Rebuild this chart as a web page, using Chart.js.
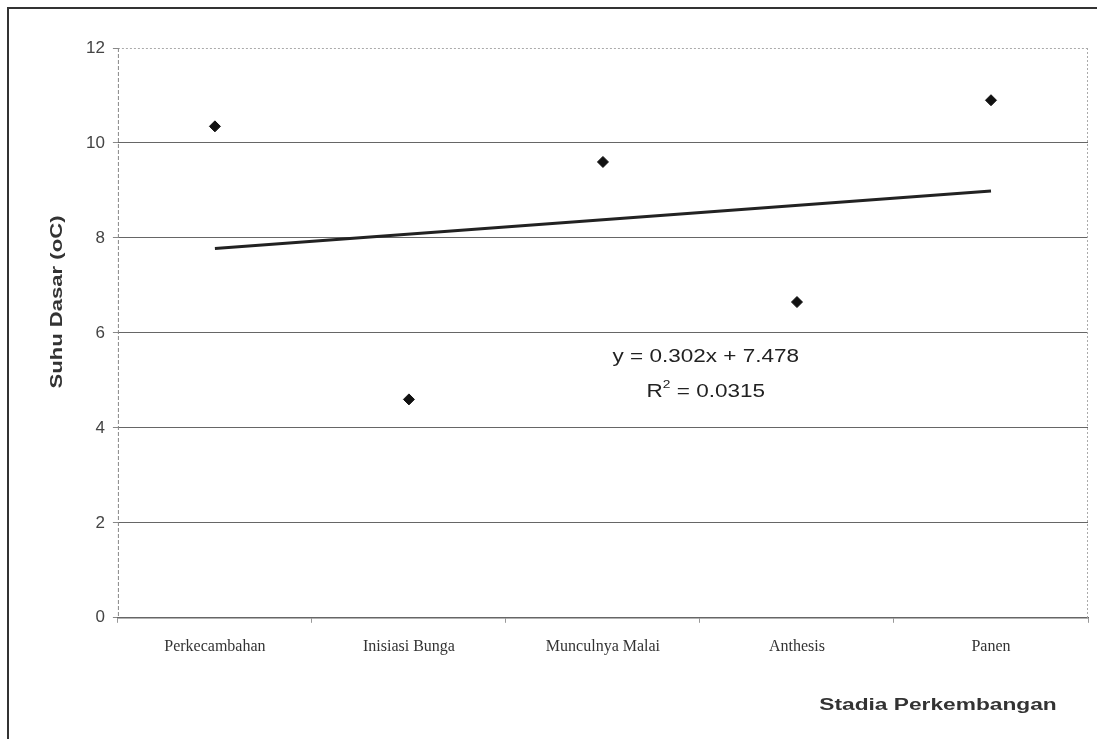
<!DOCTYPE html>
<html>
<head>
<meta charset="utf-8">
<script src="https://cdn.jsdelivr.net/npm/chart.js@4/dist/chart.umd.min.js"></script>
<style>
  body { margin: 0; background: #fff; }
</style>
</head>
<body>
<canvas id="myChart" width="1097" height="739"></canvas>
<script>
// data

const stages = ["Perkecambahan", "Inisiasi Bunga", "Munculnya Malai", "Anthesis", "Panen"];
const suhuDasar = [10.35, 4.6, 9.6, 6.65, 10.9];
const yTicks = [0, 2, 4, 6, 8, 10, 12];

// linear trend shown in the picture
const slope = 0.302;
const intercept = 7.478;
const rSquared = "0.0315";
const trendLine = stages.map((s, i) =>
  i === 0 || i === stages.length - 1 ? slope * (i + 1) + intercept : null
);

// extra drawing: frame, dotted plot edges, titles, equation
const extras = {
  id: "extras",
  afterDraw(chart) {
    const ctx = chart.ctx;
    const a = chart.chartArea;
    const xs = chart.scales.x;
    const ys = chart.scales.y;
    ctx.save();

    // outer frame (left + top)
    ctx.strokeStyle = "#333";
    ctx.lineWidth = 2;
    ctx.beginPath();
    ctx.moveTo(8, 739);
    ctx.lineTo(8, 8);
    ctx.lineTo(1097, 8);
    ctx.stroke();

    // dotted top and right edge of plot, dashed left axis
    ctx.strokeStyle = "#aaa";
    ctx.lineWidth = 1;
    ctx.setLineDash([2, 2]);
    ctx.beginPath();
    ctx.moveTo(a.left, a.top + 0.5);
    ctx.lineTo(a.right, a.top + 0.5);
    ctx.moveTo(a.right - 0.5, a.top);
    ctx.lineTo(a.right - 0.5, a.bottom);
    ctx.stroke();
    ctx.strokeStyle = "#888";
    ctx.setLineDash([4, 2]);
    ctx.beginPath();
    ctx.moveTo(a.left + 0.5, a.top);
    ctx.lineTo(a.left + 0.5, a.bottom);
    ctx.stroke();
    ctx.setLineDash([]);

    // equation
    ctx.fillStyle = "#222";
    ctx.textAlign = "center";
    ctx.textBaseline = "middle";
    const ex = xs.getPixelForValue(2.53);
    const ey1 = ys.getPixelForValue(5.5);
    const ey2 = ys.getPixelForValue(4.75);
    ctx.font = "18px 'Liberation Sans', Arial, sans-serif";
    ctx.save();
    ctx.translate(ex, ey1);
    ctx.scale(1.25, 1);
    ctx.fillText("y = 0.302x + 7.478", 0, 0);
    ctx.restore();
    ctx.save();
    ctx.translate(ex, ey2);
    ctx.scale(1.25, 1);
    const t1 = "R", t2 = " = " + rSquared;
    const w1 = ctx.measureText(t1).width;
    ctx.font = "11px 'Liberation Sans', Arial, sans-serif";
    const ws = ctx.measureText("2").width;
    ctx.font = "18px 'Liberation Sans', Arial, sans-serif";
    const w2 = ctx.measureText(t2).width;
    const start = -(w1 + ws + w2) / 2;
    ctx.textAlign = "left";
    ctx.fillText(t1, start, 0);
    ctx.font = "11px 'Liberation Sans', Arial, sans-serif";
    ctx.fillText("2", start + w1, -7);
    ctx.font = "18px 'Liberation Sans', Arial, sans-serif";
    ctx.fillText(t2, start + w1 + ws, 0);
    ctx.restore();

    // axis titles
    ctx.fillStyle = "#333";
    ctx.font = "bold 16px 'Liberation Sans', Arial, sans-serif";
    ctx.save();
    ctx.translate(58, 302);
    ctx.rotate(-Math.PI / 2);
    ctx.scale(1.38, 1);
    ctx.textAlign = "center";
    ctx.fillText("Suhu Dasar (oC)", 0, 0);
    ctx.restore();

    ctx.save();
    ctx.translate(938, 706);
    ctx.scale(1.42, 1);
    ctx.textAlign = "center";
    ctx.fillText("Stadia Perkembangan", 0, 0);
    ctx.restore();

    ctx.restore();
  },
};

const myChart = new Chart("myChart", {
  type: "line",
  data: {
    labels: stages,
    datasets: [
      {
        label: "Suhu Dasar",
        data: suhuDasar,
        showLine: false,
        pointStyle: "rectRot",
        pointRadius: 5.5,
        backgroundColor: "#111",
        borderColor: "#111",
      },
      {
        label: "Trend",
        data: trendLine,
        spanGaps: true,
        borderColor: "#222",
        borderWidth: 3,
        pointRadius: 0,
      },
    ],
  },
  options: {
    responsive: false,
    animation: false,
    layout: {
      padding: { left: 78, right: 9, top: 48, bottom: 69 },
    },
    scales: {
      x: {
        type: "category",
        offset: true,
        grid: {
          offset: true,
          drawOnChartArea: false,
          tickLength: 5,
          color: "#999",
        },
        border: { color: "#666", width: 1.5 },
        ticks: {
          padding: 14,
          color: "#333",
          font: { family: "'Liberation Serif', 'Times New Roman', serif", size: 16 },
        },
      },
      y: {
        min: 0,
        max: 12,
        afterBuildTicks: (scale) => {
          scale.ticks = yTicks.map((v) => ({ value: v }));
        },
        grid: {
          tickLength: 5,
          color: (c) => (c.tick && c.tick.value === 12 ? "rgba(0,0,0,0)" : "#666"),
          tickColor: "#888",
        },
        border: { display: false },
        ticks: {
          padding: 8,
          color: "#444",
          font: { family: "'Liberation Sans', Arial, sans-serif", size: 17 },
        },
      },
    },
    plugins: {
      legend: { display: false },
      tooltip: { enabled: false },
    },
  },
  plugins: [extras],
});
</script>
</body>
</html>
